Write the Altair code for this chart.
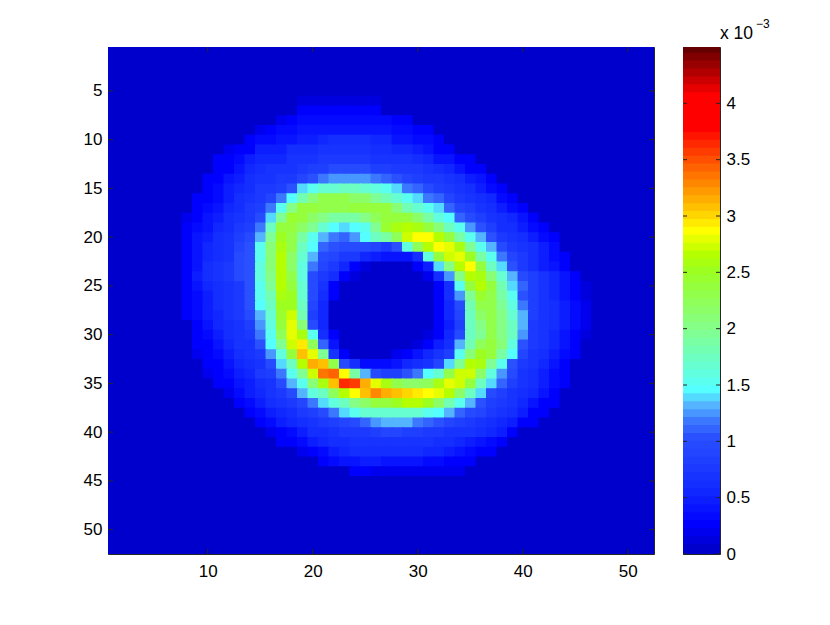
import altair as alt
import pandas as pd

N = 52
VMAX = 4.5
LEVELS = 64
x_ticks = [10, 20, 30, 40, 50]
y_ticks = [5, 10, 15, 20, 25, 30, 35, 40, 45, 50]
cb_ticks = [0, 0.5, 1, 1.5, 2, 2.5, 3, 3.5, 4]

# colorbar level -> colour
colour_stops = [(0, "0000CD"), (3, "0000FF"), (7, "1028FF"), (14, "2A50FF"), (16, "3C78FF"),
                (18, "55B4FF"), (20, "55FFFF"), (28, "85FF85"), (35, "9CFF20"), (37, "B4FF00"),
                (40, "FFFF00"), (43, "FFC000"), (50, "FF3C00"), (53, "FF0000"), (57, "FF0000"),
                (63, "660000")]

# row number -> (first column, colour levels)
rows = {
    6: (19, [1,1,1,1,1,1,1,1]),
    7: (19, [3,3,3,3,3,3,3,3]),
    8: (17, [2,3,4,4,4,4,4,4,4,4,4,3,3]),
    9: (15, [2,3,4,4,5,5,5,5,5,5,5,5,5,4,4,3,3]),
    10: (14, [3,4,4,5,5,6,6,7,8,8,8,8,7,7,5,5,4,4,3]),
    11: (12, [2,3,3,6,6,6,8,8,8,9,9,9,9,9,8,8,7,7,6,5,3,3]),
    12: (11, [3,3,4,6,7,7,7,9,9,9,10,10,10,10,10,9,9,9,9,8,7,5,5,3,3]),
    13: (11, [3,3,5,7,8,9,9,9,10,11,11,13,13,13,13,11,11,10,10,10,9,8,7,5,3,3]),
    14: (10, [3,3,5,6,8,9,9,10,10,12,14,16,17,17,17,17,16,15,14,12,11,10,10,9,8,6,5,3]),
    15: (10, [3,4,6,7,8,10,10,11,14,19,21,23,23,24,24,23,22,21,19,16,15,13,11,10,9,8,6,4,3]),
    16: (9, [3,3,4,6,8,9,10,12,16,20,25,29,32,32,32,30,30,27,25,23,21,19,16,15,12,10,9,8,7,4,3]),
    17: (9, [3,4,5,7,8,10,11,16,21,28,33,33,32,32,32,33,33,33,33,29,25,23,21,19,15,12,11,9,8,6,4,3]),
    18: (8, [2,3,5,6,8,9,10,13,19,27,34,33,30,28,26,26,26,28,31,33,33,33,30,26,22,20,15,13,11,9,8,7,5,3]),
    19: (8, [3,4,5,7,8,10,11,16,24,33,33,30,27,23,20,19,20,21,27,34,36,37,36,33,29,24,21,17,14,11,8,8,6,4,3]),
    20: (8, [3,5,6,8,9,11,13,18,27,35,32,26,21,18,16,15,17,20,24,26,31,38,40,40,37,33,26,21,18,14,10,9,8,6,4,3]),
    21: (8, [3,5,7,8,9,12,14,21,29,36,32,24,20,15,14,13,13,13,12,10,14,22,31,37,40,39,36,27,21,18,13,10,9,8,6,4]),
    22: (8, [3,5,7,8,9,13,14,21,29,37,30,23,18,13,12,10,10,7,6,5,5,5,8,22,33,38,39,35,26,21,16,12,10,8,6,4,3]),
    23: (8, [3,5,8,9,10,13,14,22,29,37,30,22,16,12,10,7,3,1,0,0,0,0,3,6,19,28,37,40,33,24,19,14,10,8,6,5,3]),
    24: (8, [3,6,8,9,10,13,14,22,28,37,32,22,13,10,8,3,1,0,0,0,0,0,0,2,8,17,28,37,36,29,23,18,13,11,9,7,5,3]),
    25: (8, [3,5,7,8,9,10,14,21,27,37,33,23,13,9,3,0,0,0,0,0,0,0,0,0,3,8,21,33,37,33,25,19,15,11,9,7,5,3,1]),
    26: (8, [3,4,6,8,9,10,14,21,25,36,35,23,13,8,3,0,0,0,0,0,0,0,0,0,3,8,17,27,34,32,26,21,14,11,9,7,5,3,1]),
    27: (8, [3,4,6,8,9,10,14,20,24,35,35,24,12,7,0,0,0,0,0,0,0,0,0,0,3,7,13,25,32,32,27,22,16,11,9,8,6,4,2]),
    28: (8, [3,4,6,7,9,10,13,18,23,34,38,25,11,7,0,0,0,0,0,0,0,0,0,0,3,7,12,24,30,32,28,23,18,11,9,8,6,4,2]),
    29: (8, [0,3,5,7,8,9,11,17,22,33,39,29,13,7,0,0,0,0,0,0,0,0,0,0,3,6,11,24,28,32,28,24,18,10,9,8,6,4,2]),
    30: (8, [0,3,4,6,8,9,10,16,21,31,39,36,21,8,3,0,0,0,0,0,0,0,0,1,3,7,13,24,27,32,28,24,17,10,9,7,5,3,1]),
    31: (8, [0,3,3,5,7,9,9,14,20,27,38,41,31,15,5,0,0,0,0,0,0,0,1,3,6,8,18,25,31,33,29,22,14,10,9,7,5,3]),
    32: (8, [0,2,3,4,6,8,9,10,17,22,33,43,39,27,9,3,0,0,0,0,2,3,5,7,9,11,21,29,35,33,26,20,12,9,8,6,4,3]),
    33: (10, [3,3,5,7,8,9,13,19,24,37,44,43,32,13,8,4,4,4,5,7,8,9,12,19,27,37,36,27,21,14,10,9,7,5,3]),
    34: (10, [2,3,4,6,7,10,11,16,21,27,38,47,48,40,26,18,13,11,11,14,16,20,23,32,38,38,30,22,17,13,9,8,6,4,3]),
    35: (11, [3,3,5,6,8,9,13,18,21,29,36,43,51,50,44,39,36,32,30,30,31,36,39,38,33,24,19,15,11,9,8,6,4,3]),
    36: (12, [2,4,6,7,9,10,13,18,22,24,31,37,40,43,46,44,43,42,41,40,39,37,30,24,19,13,11,9,8,7,5,3]),
    37: (13, [3,4,6,8,9,10,12,16,19,22,24,28,30,33,33,35,37,37,35,30,25,21,18,14,11,10,9,7,5,3,3]),
    38: (14, [3,4,6,7,8,10,11,13,16,19,21,23,23,23,23,23,23,21,20,18,15,13,12,10,9,8,6,3,3]),
    39: (15, [3,4,6,7,8,9,10,11,12,13,15,17,18,18,18,16,15,14,12,11,10,9,8,7,6,3,3]),
    40: (16, [2,3,4,6,8,8,9,10,10,10,11,12,12,11,11,10,10,9,9,9,8,7,6,3]),
    41: (17, [3,3,4,6,7,8,8,9,9,9,9,9,9,9,9,8,8,7,6,5,4,3]),
    42: (19, [2,3,4,6,7,8,8,8,8,8,8,8,7,7,6,5,4,3,3]),
    43: (21, [3,4,5,5,6,6,5,5,5,5,4,4,3,3,3]),
    44: (24, [3,3,2,2,2,2,2,2,2,2,2]),
}


def lerp_hex(a, b, t):
    ca = [int(a[i:i + 2], 16) for i in (0, 2, 4)]
    cb = [int(b[i:i + 2], 16) for i in (0, 2, 4)]
    return "#" + "".join(f"{round(p + (q - p) * t):02x}" for p, q in zip(ca, cb))


palette = []
for k in range(LEVELS):
    for (k0, c0), (k1, c1) in zip(colour_stops, colour_stops[1:]):
        if k0 <= k <= k1:
            palette.append(lerp_hex(c0, c1, (k - k0) / (k1 - k0)))
            break

step = VMAX / LEVELS
OVER = 0.13  # slight overlap so the anti-aliased cell edges leave no seams
records = []
for r in range(1, N + 1):
    first, vals = rows.get(r, (1, []))
    for c in range(1, N + 1):
        i = c - first
        lev = vals[i] if 0 <= i < len(vals) else 0
        records.append({"x0": c - 0.5, "x1": min(c + 0.5 + OVER, N + 0.5),
                        "y0": r - 0.5, "y1": min(r + 0.5 + OVER, N + 0.5),
                        "v": (lev + 0.5) * step})
cells = pd.DataFrame(records)

colour = alt.Scale(type="quantize", domain=[0, VMAX], range=palette)
FONT = "Liberation Sans"
FS = 17
INK = "#262626"
TXT = "#000000"
W, H = 546, 507
xs = alt.Scale(domain=[0.5, 52.5], nice=False, zero=False)
ys = alt.Scale(domain=[52.5, 0.5], nice=False, zero=False)

heat = alt.Chart(cells).mark_rect(strokeWidth=0).encode(
    x=alt.X("x0:Q", scale=xs, title=None,
            axis=alt.Axis(values=x_ticks, grid=False, tickSize=0, domain=False, labelPadding=9,
                          labelFont=FONT, labelFontSize=FS, labelColor=TXT)),
    x2="x1:Q",
    y=alt.Y("y0:Q", scale=ys, title=None,
            axis=alt.Axis(values=y_ticks, grid=False, tickSize=0, domain=False, labelPadding=6,
                          labelFont=FONT, labelFontSize=FS, labelColor=TXT, minExtent=40, maxExtent=40)),
    y2="y1:Q",
    color=alt.Color("v:Q", scale=colour, legend=None),
)

xt = pd.DataFrame({"t": x_ticks})
yt = pd.DataFrame({"t": y_ticks})
TL = 5
tick = dict(color=INK, strokeWidth=1)
main_ticks = [
    alt.Chart(xt).mark_rule(**tick).encode(x=alt.X("t:Q", scale=xs), y=alt.value(H), y2=alt.value(H - TL)),
    alt.Chart(xt).mark_rule(**tick).encode(x=alt.X("t:Q", scale=xs), y=alt.value(0), y2=alt.value(TL)),
    alt.Chart(yt).mark_rule(**tick).encode(y=alt.Y("t:Q", scale=ys), x=alt.value(0), x2=alt.value(TL)),
    alt.Chart(yt).mark_rule(**tick).encode(y=alt.Y("t:Q", scale=ys), x=alt.value(W), x2=alt.value(W - TL)),
]
main = alt.layer(heat, *main_ticks).properties(width=W, height=H)

CW = 37
cb_df = pd.DataFrame({"lo": [k * step for k in range(LEVELS)],
                      "hi": [min((k + 1) * step + 0.02, VMAX) for k in range(LEVELS)],
                      "v": [(k + 0.5) * step for k in range(LEVELS)]})
cb_df = cb_df.iloc[::-1]
cs = alt.Scale(domain=[0, VMAX], nice=False, zero=False)
bar = alt.Chart(cb_df).mark_rect(strokeWidth=0).encode(
    x=alt.value(0), x2=alt.value(CW),
    y=alt.Y("lo:Q", scale=cs, title=None,
            axis=alt.Axis(values=cb_ticks, orient="right", grid=False, tickSize=0, domain=False,
                          labelPadding=6, labelFont=FONT, labelFontSize=FS, labelColor=TXT,
                          labelExpr="format(datum.value, '~g')")),
    y2="hi:Q",
    color=alt.Color("v:Q", scale=colour, legend=None),
)
ct = pd.DataFrame({"t": cb_ticks})
cb_ticks_l = alt.Chart(ct).mark_rule(**tick).encode(y=alt.Y("t:Q", scale=cs), x=alt.value(0), x2=alt.value(4))
cb_ticks_r = alt.Chart(ct).mark_rule(**tick).encode(y=alt.Y("t:Q", scale=cs), x=alt.value(CW), x2=alt.value(CW - 4))
exp_txt = alt.Chart(pd.DataFrame({"s": ["x 10"]})).mark_text(
    font=FONT, fontSize=17.5, align="left", baseline="alphabetic", color=TXT
).encode(x=alt.value(37), y=alt.value(-8), text="s:N")
exp_sup = alt.Chart(pd.DataFrame({"s": ["\u22123"]})).mark_text(
    font=FONT, fontSize=12, align="left", baseline="alphabetic", color=TXT
).encode(x=alt.value(73), y=alt.value(-19), text="s:N")
cbar = alt.layer(bar, cb_ticks_l, cb_ticks_r, exp_txt, exp_sup).properties(width=CW, height=H)

chart = alt.hconcat(main, cbar, spacing=27).resolve_scale(
    x="independent", y="independent", color="shared"
).configure_view(stroke=INK, strokeWidth=1, fill="#0000CD").properties(
    padding={"left": 59, "top": 9, "right": 0, "bottom": 0}, background="white"
)

chart.save("out.html", embed_options={"renderer": "svg", "actions": False})
